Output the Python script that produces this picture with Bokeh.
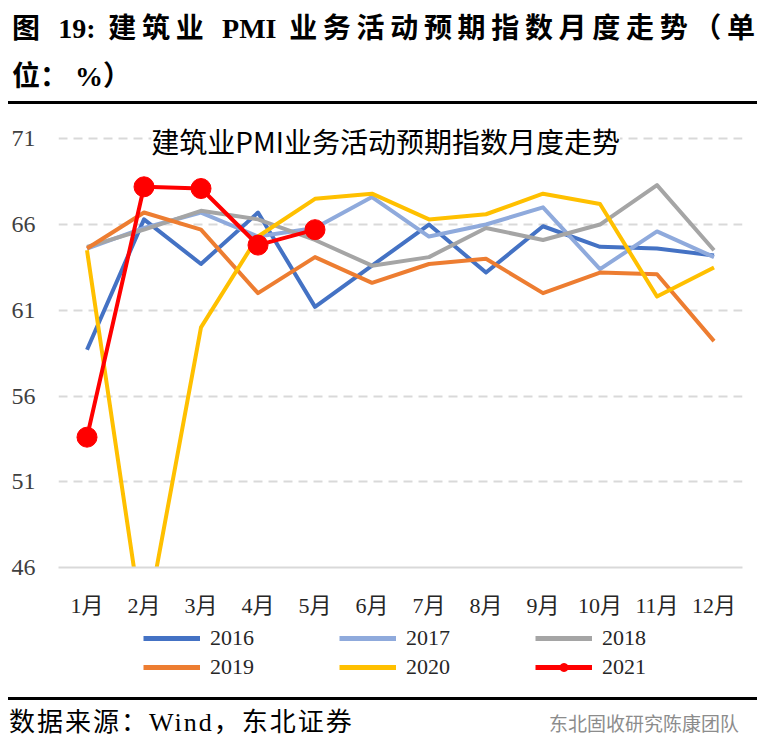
from bokeh.plotting import figure
from bokeh.models import Div, Label, Legend, LegendItem, FixedTicker
from bokeh.layouts import column
from bokeh.embed import file_html
from bokeh.resources import INLINE

# data
months = [1, 2, 3, 4, 5, 6, 7, 8, 9, 10, 11, 12]
month_labels = ["1月", "2月", "3月", "4月", "5月", "6月",
                "7月", "8月", "9月", "10月", "11月", "12月"]
y2016 = [58.7, 66.3, 63.7, 66.7, 61.2, 63.6, 66.0, 63.2, 65.9, 64.7, 64.6, 64.2]
y2017 = [64.6, 65.8, 66.7, 65.3, 65.8, 67.6, 65.3, 66.0, 67.0, 63.4, 65.6, 64.1]
y2018 = [64.7, 65.7, 66.8, 66.3, 65.1, 63.6, 64.1, 65.8, 65.1, 66.0, 68.3, 64.5]
y2019 = [64.6, 66.7, 65.7, 62.0, 64.1, 62.6, 63.7, 64.0, 62.0, 63.2, 63.1, 59.2]
y2020 = [64.5, 42.0, 60.0, 65.3, 67.5, 67.8, 66.3, 66.6, 67.8, 67.2, 61.8, 63.5]
months_2021 = [1, 2, 3, 4, 5]
y2021 = [53.6, 68.2, 68.1, 64.8, 65.7]
y_ticks = [46, 51, 56, 61, 66, 71]

SERIF = "Liberation Serif, Noto Sans CJK SC"

header = Div(
    text=(
        '<div style="font-family: \'Liberation Serif\', \'Noto Sans CJK SC\'; '
        'font-weight: bold; font-size: 28px; line-height: 48px; color: #000; '
        'margin-left: 8px; width: 743px; height: 96px; padding: 5px 2px 0 4px; '
        'box-sizing: content-box; border-bottom: 3px solid #000;">'
        '<div style="text-align: justify; text-align-last: justify;">'
        '图 19: 建筑业 PMI 业务活动预期指数月度走势（单</div>'
        '<div>位： %）</div></div>'
    ),
    width=765, height=104, margin=(0, 0, 0, 0),
)

p = figure(width=765, height=516, x_range=(0.5, 12.5), y_range=(46, 73),
           output_backend="svg", toolbar_location=None,
           min_border_left=58, min_border_right=23,
           min_border_top=0, min_border_bottom=48)
p.outline_line_color = None
p.background_fill_color = "white"

p.xgrid.visible = False
p.ygrid.ticker = FixedTicker(ticks=y_ticks)
p.ygrid.grid_line_color = "#D9D9D9"
p.ygrid.grid_line_width = 2
p.ygrid.grid_line_dash = "9 6"

p.yaxis.ticker = FixedTicker(ticks=y_ticks)
p.yaxis.axis_line_color = None
p.yaxis.major_tick_line_color = None
p.yaxis.minor_tick_line_color = None
p.yaxis.major_label_standoff = 17
p.yaxis.major_label_text_font = "Liberation Serif"
p.yaxis.major_label_text_font_size = "24px"
p.yaxis.major_label_text_color = "#404040"

p.xaxis.ticker = FixedTicker(ticks=months)
p.xaxis.major_label_overrides = {m: lab for m, lab in zip(months, month_labels)}
p.xaxis.axis_line_color = "#D9D9D9"
p.xaxis.axis_line_width = 2
p.xaxis.major_tick_line_color = None
p.xaxis.minor_tick_line_color = None
p.xaxis.major_label_standoff = 19
p.xaxis.major_label_text_font = SERIF
p.xaxis.major_label_text_font_size = "22px"
p.xaxis.major_label_text_color = "#262626"

series = [
    ("2016", months, y2016, "#4472C4"),
    ("2017", months, y2017, "#8FAADC"),
    ("2018", months, y2018, "#A5A5A5"),
    ("2019", months, y2019, "#ED7D31"),
    ("2020", months, y2020, "#FFC000"),
    ("2021", months_2021, y2021, "#FF0000"),
]

for name, xs, ys, col in series:
    p.line(xs, ys, line_color=col, line_width=4, line_join="round")
p.scatter(months_2021, y2021, size=20, color="#FF0000")

title = Label(x=6.24, y=70.9, text="建筑业PMI业务活动预期指数月度走势",
              text_align="center", text_baseline="middle",
              text_font="Noto Sans CJK SC", text_font_size="28px",
              text_color="#000000", background_fill_color="white")
p.add_layout(title)

# legend strip under the chart; its range keeps the copied series out of view,
# they are only there to give the legend its swatches
lg = figure(width=765, height=77, x_range=(0, 1), y_range=(0, 1),
            x_axis_type=None, y_axis_type=None,
            output_backend="svg", toolbar_location=None, min_border=0)
lg.outline_line_color = None
lg.xgrid.visible = False
lg.ygrid.visible = False

swatch = {}
for name, xs, ys, col in series:
    swatch[name] = [lg.line(xs, ys, line_color=col, line_width=5)]
swatch["2021"].append(lg.scatter(months_2021, y2021, size=18, color="#FF0000"))

# the column lines this frame up with the chart frame, so offsets are from x=58
legend_cols = [(["2016", "2019"], 85), (["2017", "2020"], 281), (["2018", "2021"], 477)]
for names, left in legend_cols:
    leg = Legend(items=[LegendItem(label=n, renderers=swatch[n]) for n in names],
                 location=(left, 17), orientation="vertical",
                 padding=0, margin=0, spacing=3,
                 glyph_width=57, glyph_height=20, label_height=20,
                 label_standoff=10, border_line_color=None, background_fill_alpha=0,
                 label_text_font="Liberation Serif", label_text_font_size="22px",
                 label_text_color="#262626")
    lg.add_layout(leg)

footer = Div(
    text=(
        '<div style="margin-left: 8px; width: 749px; height: 49px; border-top: 3px solid #000; '
        'display: flex; justify-content: space-between; align-items: center;">'
        '<span style="font-family: \'Liberation Serif\', \'Noto Sans CJK SC\'; '
        'font-size: 26px; letter-spacing: 2px; color: #000; padding-left: 1px;">'
        '数据来源：Wind，东北证券</span>'
        '<span style="font-family: \'Noto Sans CJK SC\'; font-size: 19px; '
        'color: #8c8c8c; padding-right: 18px;">东北固收研究陈康团队</span></div>'
    ),
    width=765, height=52, margin=(0, 0, 0, 0),
)

layout = column(header, p, lg, footer, spacing=0)

open("out.html", "w").write(file_html(layout, INLINE))
